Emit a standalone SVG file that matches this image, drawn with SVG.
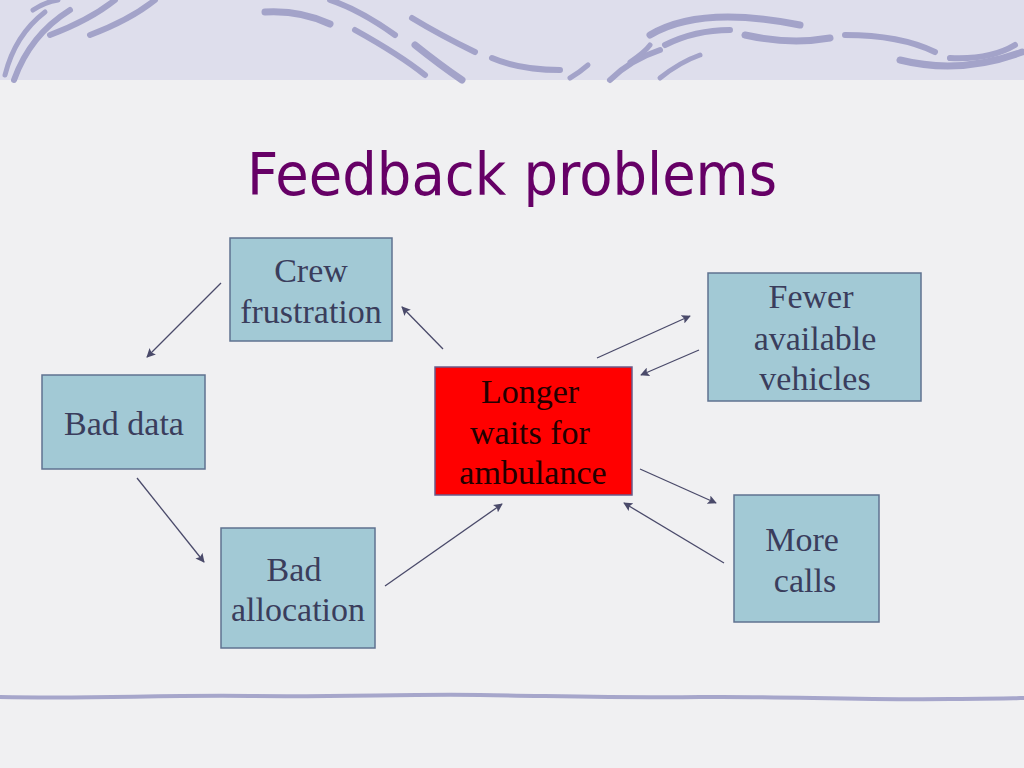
<svg xmlns="http://www.w3.org/2000/svg" width="1024" height="768" viewBox="0 0 1024 768">
<defs>
<marker id="ah" viewBox="0 0 10 10" refX="9" refY="5" markerWidth="9" markerHeight="9" markerUnits="userSpaceOnUse" orient="auto">
<path d="M0,0 L10,5 L0,10 L2,5 z" fill="#4a4a6a"/>
</marker>
<style>
.box{fill:#a2c9d5;stroke:#5f7290;stroke-width:1.5}
.lbl{font-family:"Liberation Serif","Times New Roman",serif;font-size:34px;fill:#3a3d5c;text-anchor:middle}
.red{fill:#ff0000;stroke:#6a5a8a;stroke-width:1.5}
.rlbl{font-family:"Liberation Serif","Times New Roman",serif;font-size:34px;fill:#220000;text-anchor:middle}
.conn line{stroke:#4a4a6a;stroke-width:1.3;marker-end:url(#ah)}
.deco path{fill:none;stroke:#a3a3c9;stroke-linecap:round}
</style>
</defs>
<rect x="0" y="0" width="1024" height="768" fill="#f0f0f2"/>
<rect x="0" y="0" width="1024" height="80" fill="#dedeec"/>
<g class="deco">
<path d="M5,75 Q15,35 45,12" stroke-width="5"/>
<path d="M14,80 Q30,35 70,10" stroke-width="6"/>
<path d="M33,10 Q45,2 58,0" stroke-width="5"/>
<path d="M50,35 Q90,20 115,0" stroke-width="6"/>
<path d="M90,35 Q130,20 155,0" stroke-width="6"/>
<path d="M265,12 Q300,10 330,24" stroke-width="7"/>
<path d="M330,0 Q360,10 395,35" stroke-width="6"/>
<path d="M355,30 Q400,55 425,75" stroke-width="6"/>
<path d="M412,18 Q440,35 475,52" stroke-width="6"/>
<path d="M415,45 Q440,65 462,80" stroke-width="7"/>
<path d="M492,58 Q520,70 560,70" stroke-width="6"/>
<path d="M570,78 Q580,72 588,65" stroke-width="5"/>
<path d="M610,80 Q630,60 660,50" stroke-width="6"/>
<path d="M630,62 Q645,52 650,45" stroke-width="5"/>
<path d="M660,78 Q680,62 700,55" stroke-width="5"/>
<path d="M650,35 Q700,5 800,25" stroke-width="7"/>
<path d="M665,45 Q695,30 730,30" stroke-width="6"/>
<path d="M745,35 Q790,45 830,38" stroke-width="7"/>
<path d="M845,35 Q900,35 935,52" stroke-width="6"/>
<path d="M900,60 Q960,75 1022,52" stroke-width="7"/>
<path d="M950,58 Q990,60 1015,45" stroke-width="6"/>
</g>
<path d="M0,697 C100,699 150,695 250,696 S400,694 480,695 S620,698 700,697 S850,700 950,699 S1010,698 1024,698" fill="none" stroke="#a6a6cb" stroke-width="4" stroke-linecap="round"/>
<text x="512" y="195" font-family="'DejaVu Sans',Tahoma,sans-serif" font-size="58" fill="#660066" text-anchor="middle" textLength="530" lengthAdjust="spacingAndGlyphs">Feedback problems</text>
<g class="conn" id="connectors">
<line x1="221" y1="283" x2="147" y2="357"/>
<line x1="137" y1="478" x2="204" y2="562"/>
<line x1="385" y1="586" x2="502" y2="504"/>
<line x1="443" y1="349" x2="402" y2="307"/>
<line x1="597" y1="358" x2="690" y2="316"/>
<line x1="699" y1="350" x2="641" y2="375"/>
<line x1="640" y1="469" x2="716" y2="503"/>
<line x1="724" y1="563" x2="624" y2="503"/>
</g>
<g id="crew">
<rect class="box" x="230" y="238" width="162" height="103"/>
<text class="lbl" x="311" y="282">Crew</text>
<text class="lbl" x="311" y="323">frustration</text>
</g>
<g id="baddata">
<rect class="box" x="42" y="375" width="163" height="94"/>
<text class="lbl" x="124" y="435">Bad data</text>
</g>
<g id="badalloc">
<rect class="box" x="221" y="528" width="154" height="120"/>
<text class="lbl" x="294" y="581">Bad</text>
<text class="lbl" x="298" y="621">allocation</text>
</g>
<g id="longer">
<rect class="red" x="435" y="367" width="197" height="128"/>
<text class="rlbl" x="530" y="403">Longer</text>
<text class="rlbl" x="530" y="444">waits for</text>
<text class="rlbl" x="533" y="484">ambulance</text>
</g>
<g id="fewer">
<rect class="box" x="708" y="273" width="213" height="128"/>
<text class="lbl" x="811" y="308">Fewer</text>
<text class="lbl" x="815" y="350">available</text>
<text class="lbl" x="815" y="390">vehicles</text>
</g>
<g id="more">
<rect class="box" x="734" y="495" width="145" height="127"/>
<text class="lbl" x="802" y="551">More</text>
<text class="lbl" x="805" y="592">calls</text>
</g>
</svg>
